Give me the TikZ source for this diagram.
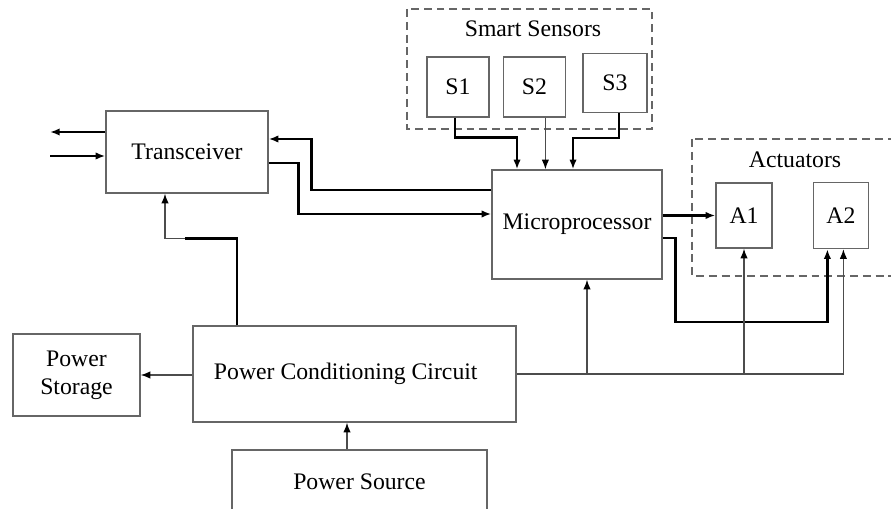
\documentclass[tikz,border=0pt]{standalone}
\usepackage{fontspec}
\setmainfont{Liberation Serif}
\usetikzlibrary{arrows.meta,positioning,calc}
\tikzset{
    blk/.style={draw=black!60,line width=0.8pt,inner sep=2pt,align=center},
    grp/.style={draw=black!60,line width=0.7pt,dash pattern=on 4.5pt off 2.8pt},
    bus/.style={line width=1.4pt,black},
    pline/.style={line width=0.7pt,black!70},
    >={Latex[length=5.5pt,width=4.2pt,black]},
}

\begin{document}
\begin{tikzpicture}[x=0.02cm,y=-0.02cm,font=\fontsize{13.5}{16}\selectfont]
                \useasboundingbox (0,0) rectangle (891,509);
                % groups
                \draw[grp] (407,9) rectangle (652,129);
                \node (senslbl) at (533,29) {Smart Sensors};
                \draw[grp] (692,139) rectangle (894,276);
                \node (actlbl) at (795,160) {Actuators};
                % blocks
                \node[blk,minimum width=3.24cm,minimum height=1.64cm] (trx) at (187,152) {Transceiver};
                \node[blk,minimum width=1.24cm,minimum height=1.2cm] (S1) at (458,87) {S1};
                \node[blk,minimum width=1.24cm,minimum height=1.2cm,right=0.26cm of S1] (S2) {S2};
                \node[blk,minimum width=1.28cm,minimum height=1.18cm] (S3) at (615,83) {S3};
                \node[blk,minimum width=3.4cm,minimum height=2.18cm] (mp) at (577,224.5) {Microprocessor};
                \node[blk,minimum width=1.12cm,minimum height=1.3cm] (A1) at (744,215.5) {A1};
                \node[blk,minimum width=1.1cm,minimum height=1.32cm,right=0.8cm of A1] (A2) {A2};
                \node[blk,minimum width=6.46cm,minimum height=1.92cm] (pcc) at (354.5,374) {Power Conditioning Circuit\hspace{0.35cm}};
                \node[blk,minimum width=2.54cm,minimum height=1.64cm] (stor) at (76.5,375) {Power\\Storage};
                \node[blk,minimum width=5.1cm,minimum height=1.28cm] (src) at (359.5,482) {Power Source};
                % outside link
                \coordinate (txout) at (50,132);
                \coordinate (rxin) at (50,156);
                \draw[bus,->] (trx.west |- txout) -- (txout);
                \draw[bus,->] (rxin) -- (trx.west |- rxin);
                % sensors to microprocessor
                \draw[bus,->] ([xshift=-0.06cm]S1.south) -- ++(0,20) -| ([xshift=-1.2cm]mp.north);
                \coordinate (s2out) at ([xshift=0.22cm]S2.south);
                \draw[pline,->] (s2out) -- (s2out |- mp.north);
                \draw[bus,->] ([xshift=0.08cm]S3.south) -- ++(0,25) -| ([xshift=-0.08cm]mp.north);
                % transceiver <-> microprocessor
                \draw[bus,->] ([yshift=0.69cm]mp.west) -- ++(-180,0) |- ([yshift=0.26cm]trx.east);
                \draw[bus,->] ([yshift=-0.22cm]trx.east) -- ++(30,0) |- ([yshift=0.21cm]mp.west);
                % microprocessor to actuators
                \draw[bus,->] (mp.east |- A1.west) -- (A1.west);
                \draw[bus,->] ([yshift=-0.27cm]mp.east) -- ++(13,0) -- ++(0,84) -| ([xshift=-0.27cm]A2.south);
                % power lines
                \coordinate (pup) at ([xshift=-2.35cm]pcc.north);
                \draw[bus] (pup) -- ++(0,-87) -- ++(-52,0) coordinate (pmid);
                \draw[pline,->] (pmid) -| ([xshift=-0.44cm]trx.south);
                \draw[pline,->] (pcc.east) -| ([xshift=0.05cm]A2.south);
                \coordinate (mpin) at ([xshift=0.2cm]mp.south);
                \draw[pline,->] (mpin |- pcc.east) -- (mpin);
                \draw[pline,->] (A1.south |- pcc.east) -- (A1.south);
                \draw[pline,->] (pcc.west |- stor.east) -- (stor.east);
                \coordinate (srcout) at ([xshift=-0.25cm]src.north);
                \draw[pline,->] (srcout) -- (srcout |- pcc.south);
            \end{tikzpicture}
\end{document}
